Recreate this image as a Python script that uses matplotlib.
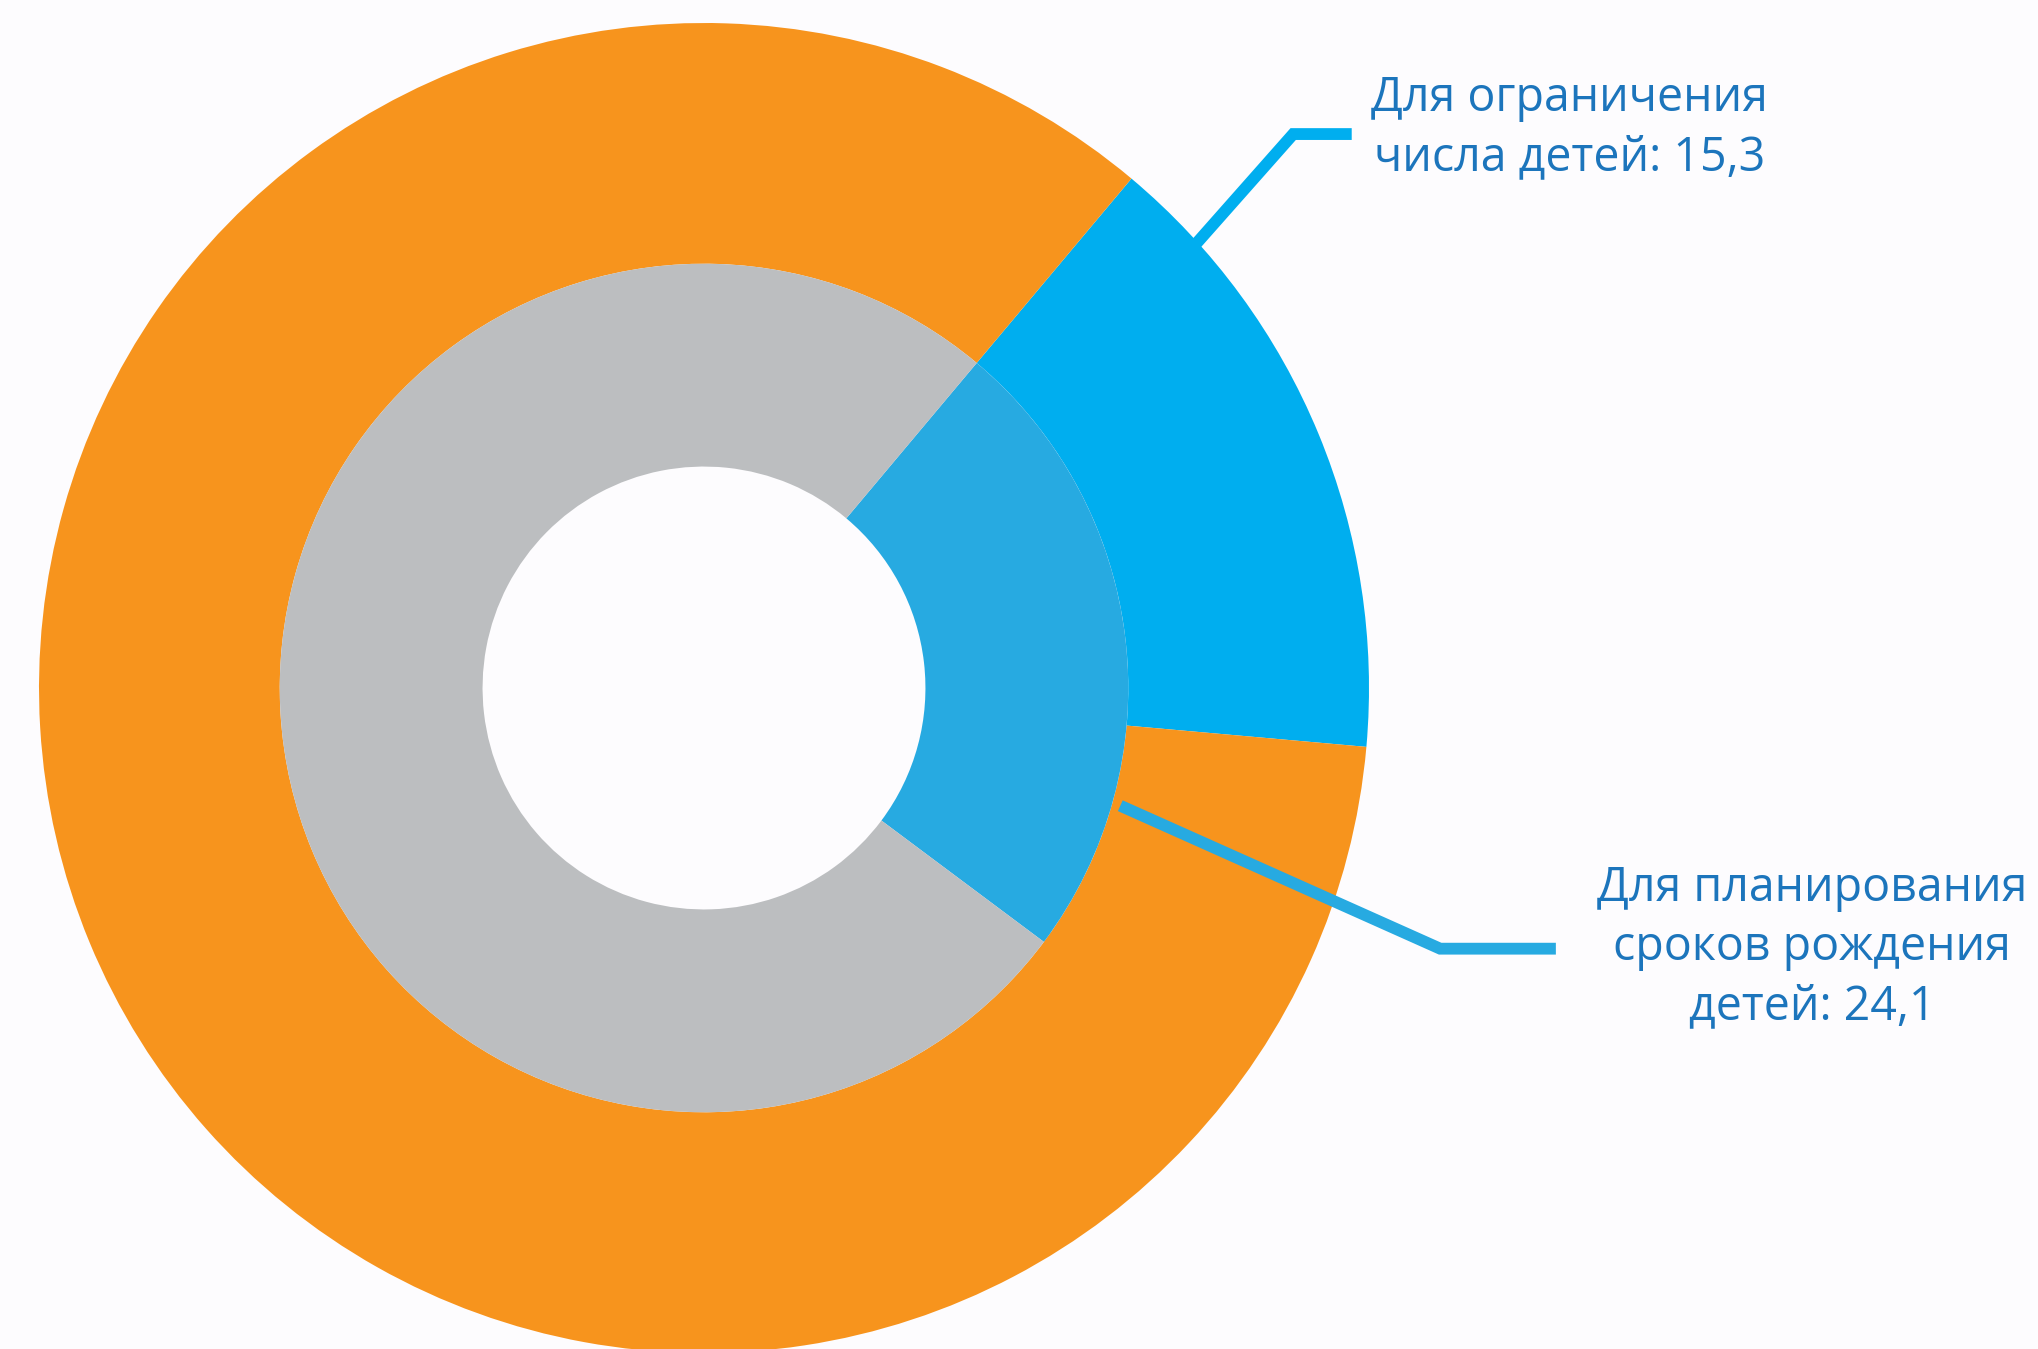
import matplotlib
import matplotlib.pyplot as plt

matplotlib.use("Agg")

# shares, %
outer_values = [15.3, 84.7]  # для ограничения числа детей / прочие
inner_values = [24.1, 75.9]  # для планирования сроков рождения / прочие

outer_label = "Для ограничения\nчисла детей: {}"
inner_label = "Для планирования\nсроков рождения\nдетей: {}"

outer_colors = ["#00AEEF", "#F7941D"]
inner_colors = ["#27AAE1", "#BCBEC0"]
text_color = "#1C75BC"
bg = "#FDFCFE"


def fmt(v):
    return f"{v:.1f}".replace(".", ",")


fig = plt.figure(figsize=(20.38, 13.49), dpi=100, facecolor=bg)
ax = fig.add_axes([0, 0, 1, 1])
ax.set_facecolor(bg)

ax.pie(
    outer_values,
    radius=1.0,
    startangle=50,
    counterclock=False,
    colors=outer_colors,
    wedgeprops={"width": 0.362, "edgecolor": "none", "linewidth": 0},
)
ax.pie(
    inner_values,
    radius=0.638,
    startangle=50,
    counterclock=False,
    colors=inner_colors,
    wedgeprops={"width": 0.305, "edgecolor": "none", "linewidth": 0},
)

# leader lines
ax.plot([0.74, 0.886, 0.974], [0.668, 0.833, 0.833], color=outer_colors[0],
        lw=8.5, solid_joinstyle="miter", solid_capstyle="butt")
ax.plot([0.626, 1.107, 1.281], [-0.177, -0.392, -0.392], color=inner_colors[0],
        lw=8.5, solid_joinstyle="miter", solid_capstyle="butt")

font = {"family": "Open Sans", "size": 33.5, "color": text_color}
ax.text(1.302, 0.842, outer_label.format(fmt(outer_values[0])), ha="center",
        va="center", multialignment="center", linespacing=1.33, **font)
ax.text(1.666, -0.39, inner_label.format(fmt(inner_values[0])), ha="center",
        va="center", multialignment="center", linespacing=1.33, **font)

ax.set_xlim(-704 / 665, (2038 - 704) / 665)
ax.set_ylim((688 - 1349) / 665, 688 / 665)
ax.set_aspect("equal")
ax.axis("off")

fig.savefig("out.png", dpi=100, facecolor=bg)
plt.close(fig)
